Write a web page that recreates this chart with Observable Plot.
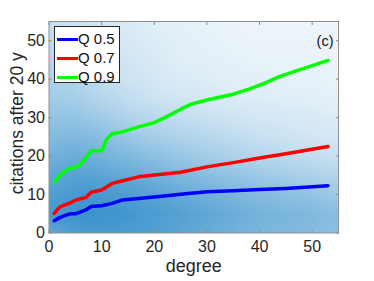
<!DOCTYPE html>
<html>
<head>
<meta charset="utf-8">
<script src="https://cdn.jsdelivr.net/npm/d3@7"></script>
<script src="https://cdn.jsdelivr.net/npm/@observablehq/plot@0.6"></script>
<style>
  body { margin: 0; background: #fff; }
  #wrap { position: relative; width: 374px; height: 281px; font-family: "Liberation Sans", Arial, sans-serif; color: #262626; }
  #legend { position: absolute; left: 54px; top: 26px; width: 66px; height: 57px; border: 1px solid #262626; background: #fff; box-sizing: border-box; }
  .row { position: absolute; left: 0; height: 18px; line-height: 18px; font-size: 15px; color: #111; white-space: nowrap; }
  .sw { position: absolute; left: 2px; top: 7.5px; width: 21px; height: 3.5px; }
  .lb { position: absolute; left: 23px; top: 0; }
</style>
</head>
<body>
<div id="wrap"></div>
<script>
// ---- data ----
const degGrid = [0, 5, 10, 15, 20, 25, 30, 35, 40, 45, 50, 55];
const citGrid = [0, 5, 10, 15, 20, 25, 30, 35, 40, 45, 50, 55];
// scatter density (share of ink) at citGrid rows (0 -> 55) x degGrid columns
const density = [
  [0.62, 0.70, 0.72, 0.70, 0.68, 0.64, 0.60, 0.56, 0.52, 0.50, 0.48, 0.45],
  [0.72, 0.76, 0.76, 0.74, 0.70, 0.66, 0.62, 0.58, 0.54, 0.52, 0.50, 0.46],
  [0.68, 0.72, 0.72, 0.69, 0.65, 0.60, 0.56, 0.52, 0.48, 0.45, 0.42, 0.38],
  [0.62, 0.66, 0.64, 0.60, 0.55, 0.50, 0.46, 0.42, 0.38, 0.35, 0.32, 0.29],
  [0.55, 0.58, 0.55, 0.50, 0.45, 0.40, 0.36, 0.32, 0.29, 0.26, 0.24, 0.21],
  [0.48, 0.50, 0.46, 0.40, 0.35, 0.31, 0.28, 0.25, 0.22, 0.20, 0.18, 0.16],
  [0.42, 0.42, 0.37, 0.31, 0.27, 0.24, 0.21, 0.19, 0.17, 0.16, 0.15, 0.13],
  [0.37, 0.35, 0.29, 0.24, 0.20, 0.18, 0.16, 0.14, 0.13, 0.12, 0.11, 0.10],
  [0.32, 0.30, 0.24, 0.20, 0.17, 0.14, 0.13, 0.11, 0.11, 0.10, 0.10, 0.09],
  [0.28, 0.26, 0.21, 0.18, 0.15, 0.12, 0.11, 0.10, 0.09, 0.09, 0.09, 0.08],
  [0.25, 0.23, 0.19, 0.16, 0.13, 0.11, 0.10, 0.09, 0.08, 0.08, 0.08, 0.07],
  [0.22, 0.20, 0.17, 0.14, 0.12, 0.10, 0.09, 0.08, 0.08, 0.07, 0.07, 0.07]
];

const qDeg = [1, 2, 3, 4, 5, 6, 7, 8, 10, 12, 14, 17, 21, 25, 30, 35, 40, 45, 53];
const q50 = [3.2, 4.0, 4.5, 5.0, 5.0, 5.5, 6.0, 6.9, 7.1, 7.7, 8.6, 9.0, 9.5, 10.1, 10.7, 11.0, 11.3, 11.6, 12.3];
const q70 = [5.1, 6.7, 7.3, 7.8, 8.5, 8.9, 9.2, 10.6, 11.2, 12.9, 13.6, 14.6, 15.2, 15.8, 17.2, 18.3, 19.5, 20.6, 22.5];
const q90Deg = [1, 2, 3, 4, 5, 6, 7, 8, 10, 11, 12, 14, 17, 20, 22, 25, 27, 30, 35, 38, 41, 44, 48, 53];
const q90 = [13.2, 14.9, 16.0, 17.0, 17.0, 17.9, 19.5, 21.4, 21.4, 24.5, 25.8, 26.3, 27.6, 28.7, 30.0, 32.2, 33.5, 34.6, 36.1, 37.4, 39.0, 40.8, 42.6, 44.9];

const xTicks = [0, 10, 20, 30, 40, 50];
const yTicks = [0, 10, 20, 30, 40, 50];
const seriesNames = ["Q 0.5", "Q 0.7", "Q 0.9"];
const seriesColors = ["#0000ff", "#ff0000", "#00ff00"];
const xLabel = "degree";
const yLabel = "citations after 20 y";
const panelTag = "(c)";

// ---- build tables ----
const grid = [];
citGrid.forEach((c, i) => degGrid.forEach((d, j) => grid.push({deg: d, cit: c, v: density[i][j]})));
const lines = [q50, q70, q90].map((vals, k) => {
  const xs = k === 2 ? q90Deg : qDeg;
  return vals.map((v, i) => ({deg: xs[i], val: v, s: seriesNames[k]}));
});

const axisColor = "#8f8f8f";
const chart = Plot.plot({
  width: 374,
  height: 281,
  marginLeft: 48.5,
  marginRight: 36,
  marginTop: 21,
  marginBottom: 48.5,
  style: {fontFamily: "Liberation Sans, Arial, sans-serif", color: "#262626", background: "#fff"},
  x: {domain: [0, 55]},
  y: {domain: [0, 55]},
  color: {type: "linear", domain: [0, 1], range: ["#ffffff", "#0072BD"]},
  marks: [
    Plot.raster(grid, {x: "deg", y: "cit", fill: "v", interpolate: "barycentric", x1: 0, x2: 55, y1: 0, y2: 55}),
    ...lines.map((L, k) => Plot.line(L, {x: "deg", y: "val", stroke: seriesColors[k], strokeWidth: 3.5, strokeLinejoin: "round"})),
    Plot.frame({stroke: axisColor, strokeWidth: 1}),
    Plot.axisX(xTicks, {anchor: "bottom", tickSize: -3, tickPadding: 11, fontSize: 16, stroke: axisColor, label: null}),
    Plot.axisX(xTicks, {anchor: "top", tickSize: -3, tickFormat: () => "", stroke: axisColor, label: null}),
    Plot.axisY(yTicks, {anchor: "left", tickSize: -3, tickPadding: 7, fontSize: 16, stroke: axisColor, label: null}),
    Plot.axisY(yTicks, {anchor: "right", tickSize: -3, tickFormat: () => "", stroke: axisColor, label: null}),
    Plot.text([xLabel], {frameAnchor: "bottom", dy: 38.5, fontSize: 18, fill: "#262626"}),
    Plot.text([yLabel], {frameAnchor: "left", textAnchor: "middle", rotate: -90, dx: -32, dy: -4, fontSize: 17.5, fill: "#262626"}),
    Plot.text([panelTag], {frameAnchor: "top-right", dx: -5, dy: 14, fontSize: 14.5, fill: "#111"})
  ]
});
const wrap = document.getElementById("wrap");
wrap.appendChild(chart);

// legend
const lg = document.createElement("div");
lg.id = "legend";
seriesNames.forEach((n, k) => {
  const r = document.createElement("div");
  r.className = "row";
  r.style.top = (3 + 19 * k) + "px";
  r.innerHTML = `<span class="sw" style="background:${seriesColors[k]}"></span><span class="lb">${n}</span>`;
  lg.appendChild(r);
});
wrap.appendChild(lg);
</script>
</body>
</html>
